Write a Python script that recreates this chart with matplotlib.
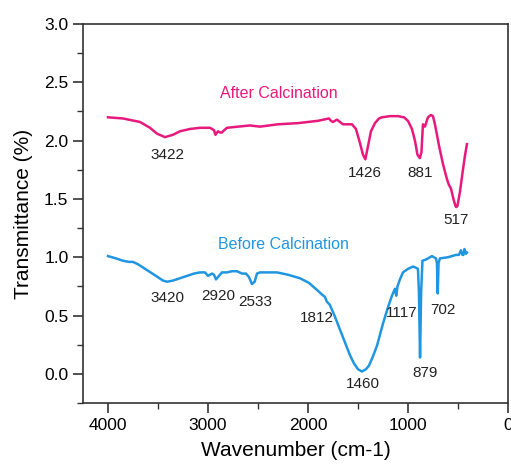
import matplotlib
matplotlib.use("Agg")
import matplotlib.pyplot as plt
from matplotlib.ticker import MultipleLocator

plt.rcParams['font.family'] = ['Liberation Sans', 'DejaVu Sans']

# After calcination spectrum (wavenumber, transmittance)
after_x = [4000, 3850, 3680, 3580, 3510, 3430, 3350, 3280, 3180, 3080, 2980, 2940, 2925, 2900,
           2880, 2860, 2850, 2810, 2700, 2580, 2480, 2300, 2100, 1900, 1790, 1770, 1750, 1710,
           1650, 1560, 1520, 1480, 1450, 1426, 1400, 1370, 1330, 1290, 1260, 1180, 1100, 1040,
           1000, 960, 930, 905, 881, 865, 850, 840, 830, 800, 770, 750, 730, 690, 650, 610, 590,
           570, 545, 525, 517, 505, 480, 450, 430, 410]
after_y = [2.20, 2.19, 2.16, 2.11, 2.06, 2.03, 2.05, 2.08, 2.10, 2.11, 2.11, 2.09, 2.05, 2.08,
           2.07, 2.07, 2.08, 2.11, 2.12, 2.13, 2.12, 2.14, 2.15, 2.17, 2.19, 2.17, 2.16, 2.18,
           2.14, 2.14, 2.10, 1.98, 1.88, 1.84, 1.95, 2.08, 2.15, 2.19, 2.20, 2.21, 2.21, 2.20,
           2.17, 2.10, 2.00, 1.88, 1.85, 1.90, 2.14, 2.13, 2.12, 2.20, 2.22, 2.21, 2.14, 1.96,
           1.80, 1.67, 1.62, 1.59, 1.50, 1.44, 1.43, 1.44, 1.56, 1.75, 1.87, 1.97]

# Before calcination spectrum
before_x = [4000, 3920, 3850, 3790, 3750, 3700, 3610, 3520, 3450, 3410, 3350, 3280, 3210, 3140,
            3080, 3030, 3000, 2960, 2940, 2920, 2890, 2860, 2810, 2760, 2710, 2660, 2620, 2590,
            2560, 2533, 2510, 2480, 2400, 2310, 2200, 2080, 1990, 1910, 1860, 1830, 1812, 1790,
            1780, 1730, 1680, 1630, 1580, 1540, 1500, 1460, 1420, 1390, 1350, 1310, 1250, 1200,
            1160, 1130, 1117, 1105, 1080, 1050, 1000, 950, 920, 900, 890, 879, 868, 855, 820,
            780, 760, 740, 720, 710, 702, 694, 680, 600, 520, 490, 470, 455, 445, 435, 420, 410]
before_y = [1.01, 0.99, 0.97, 0.96, 0.96, 0.94, 0.89, 0.84, 0.80, 0.79, 0.80, 0.82, 0.84, 0.86,
            0.87, 0.87, 0.84, 0.86, 0.85, 0.81, 0.84, 0.87, 0.87, 0.88, 0.88, 0.86, 0.86, 0.83,
            0.77, 0.79, 0.86, 0.87, 0.87, 0.87, 0.85, 0.82, 0.78, 0.72, 0.68, 0.66, 0.62, 0.60,
            0.59, 0.49, 0.38, 0.27, 0.16, 0.09, 0.04, 0.02, 0.04, 0.07, 0.15, 0.24, 0.43, 0.57,
            0.67, 0.73, 0.67, 0.75, 0.81, 0.87, 0.90, 0.92, 0.91, 0.90, 0.70, 0.14, 0.70, 0.97,
            0.98, 1.00, 1.01, 1.00, 0.99, 0.95, 0.69, 0.95, 0.99, 1.00, 1.02, 1.02, 1.06, 1.02,
            1.02, 1.07, 1.03, 1.04]

after_labels = ["3422", "1426", "881", "517"]
after_label_x = [3410, 1430, 880, 520]
after_label_y = [1.88, 1.72, 1.72, 1.32]

before_labels = ["3420", "2920", "2533", "1812", "1117", "702", "879", "1460"]
before_label_x = [3410, 2900, 2530, 1910, 1060, 650, 830, 1450]
before_label_y = [0.65, 0.67, 0.62, 0.48, 0.52, 0.55, 0.01, -0.09]

pink = "#E8197D"
blue = "#2196E0"

fig = plt.figure(figsize=(5.11, 4.69), dpi=100)
ax = fig.add_axes([0.1624, 0.1407, 0.8316, 0.8081])

ax.plot(after_x, after_y, color=pink, lw=1.8)
ax.plot(before_x, before_y, color=blue, lw=1.8)

for t, x, y in zip(after_labels, after_label_x, after_label_y):
    ax.text(x, y, t, ha="center", va="center", fontsize=11, color="#222222")
for t, x, y in zip(before_labels, before_label_x, before_label_y):
    ax.text(x, y, t, ha="center", va="center", fontsize=11, color="#222222")

ax.text(2290, 2.40, "After Calcination", ha="center", va="center", fontsize=11.5, color=pink)
ax.text(2250, 1.11, "Before Calcination", ha="center", va="center", fontsize=11.5, color=blue)

ax.set_xlim(4250, 0)
ax.set_ylim(-0.25, 3.0)
ax.xaxis.set_major_locator(MultipleLocator(1000))
ax.xaxis.set_minor_locator(MultipleLocator(500))
ax.yaxis.set_major_locator(MultipleLocator(0.5))
ax.yaxis.set_minor_locator(MultipleLocator(0.25))
ax.yaxis.set_major_formatter(matplotlib.ticker.FormatStrFormatter('%.1f'))

ax.tick_params(which="major", direction="out", length=7, width=1.2, labelsize=12.5, color="#333333")
ax.tick_params(which="minor", direction="out", length=4, width=1.0, color="#333333")
ax.tick_params(top=False, right=False, which="both")
for s in ax.spines.values():
    s.set_color("#333333")
    s.set_linewidth(1.2)

ax.set_xlabel("Wavenumber (cm-1)", fontsize=15, labelpad=6)
ax.set_ylabel("Transmittance (%)", fontsize=15, labelpad=8)

fig.savefig("out.png", dpi=100)
